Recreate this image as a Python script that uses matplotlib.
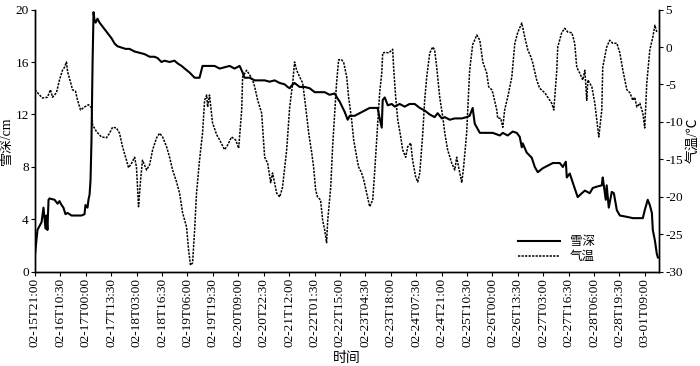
import numpy as np
import matplotlib
matplotlib.use("Agg")
import matplotlib.pyplot as plt

plt.rcParams['font.family'] = ['Liberation Serif', 'Noto Sans CJK SC', 'DejaVu Sans']
plt.rcParams['axes.unicode_minus'] = False

# hours after 02-15T21:00
snow_hours = [0, 1.3, 3.5, 4.5, 5.6, 6.1, 6.6, 7.2, 7.7, 10.4, 12.0, 13.0, 14.1, 15.1, 16.2, 17.3, 19.4, 21.5,
              24.7, 26.3, 26.8, 27.9, 28.4, 29.0, 29.5, 30.0, 30.6, 31.1, 31.6, 32.2, 33.2, 34.3, 35.9, 38.5,
              40.7, 42.3, 43.8, 46.0, 48.1, 50.2, 52.9, 55.5, 58.2, 60.9, 63.5, 65.1, 67.2, 68.8, 71.5, 74.1,
              75.7, 77.9, 79.5, 82.1, 84.8, 87.4, 89.0, 90.6, 92.7, 95.4, 98.1, 100.7, 103.4, 106.0, 108.7,
              110.3, 111.3, 114.0, 116.7, 119.3, 122.0, 124.6, 127.3, 130.0, 132.6, 134.2, 135.3, 136.3,
              137.9, 140.6, 143.2, 145.9, 148.6, 151.2, 153.9, 156.5, 159.2, 160.8, 161.8, 164.5, 166.1,
              167.2, 169.8, 172.5, 175.1, 177.8, 180.4, 182.0, 183.1, 184.2, 184.7, 185.8, 187.4, 189.5,
              191.1, 193.7, 196.4, 199.0, 201.7, 204.4, 207.0, 209.7, 212.3, 213.9, 216.1, 217.7, 220.3,
              223.0, 226.7, 229.3, 230.9, 232.5, 233.6, 236.3, 243.2, 246.9, 248.5, 251.1, 253.8, 255.9,
              257.5, 258.6, 259.1, 261.2, 263.9, 265.5, 267.1, 269.7, 272.4, 275.1, 278.8, 280.4, 282.0,
              282.5, 284.1, 285.7, 288.3, 290.5, 292.1, 294.7, 296.3, 298.4, 301.1, 301.6, 303.2, 303.7,
              304.8, 306.4, 307.5, 309.1, 310.7, 314.4, 317.6, 321.3, 322.9, 323.9, 325.5, 326.6, 327.7,
              328.2, 329.3, 330.3, 330.9]
snow_depth = [1.3, 3.2, 3.8, 4.9, 3.3, 4.3, 3.2, 5.5, 5.6, 5.5, 5.2, 5.4, 5.1, 4.9, 4.4, 4.5, 4.3, 4.3,
              4.3, 4.4, 5.1, 4.9, 5.5, 5.9, 7.0, 10.0, 16.1, 19.8, 19.2, 19.0, 19.3, 19.0, 18.7, 18.2,
              17.8, 17.4, 17.2, 17.1, 17.0, 17.0, 16.8, 16.7, 16.6, 16.4, 16.4, 16.3, 16.0, 16.1, 16.0, 16.1,
              15.9, 15.7, 15.5, 15.2, 14.8, 14.8, 15.7, 15.7, 15.7, 15.7, 15.5, 15.6, 15.7, 15.5, 15.7,
              15.2, 14.8, 14.8, 14.6, 14.6, 14.6, 14.5, 14.6, 14.4, 14.3, 14.1, 14.0, 14.2,
              14.4, 14.1, 14.1, 14.0, 13.7, 13.7, 13.7, 13.5, 13.6, 13.2, 13.0, 12.2, 11.6,
              11.9, 11.9, 12.1, 12.3, 12.5, 12.5, 12.5, 11.7, 11.0, 13.1, 13.3, 12.7, 12.8,
              12.6, 12.8, 12.6, 12.8, 12.8, 12.5, 12.3, 12.0, 11.8, 12.1, 11.7, 11.8, 11.6,
              11.7, 11.7, 11.8, 11.9, 12.5, 11.3, 10.6, 10.6, 10.4, 10.6, 10.4, 10.7, 10.6,
              10.3, 9.5, 9.8, 9.1, 8.7, 8.0, 7.6, 7.9, 8.1, 8.3, 8.3, 8.0, 8.4,
              7.2, 7.5, 6.8, 5.7, 6.0, 6.2, 6.0, 6.4, 6.5, 6.6, 7.2, 5.5, 6.6,
              4.9, 6.1, 6.0, 4.7, 4.3, 4.2, 4.1, 4.1, 4.1, 4.7, 5.5, 5.1, 4.5,
              3.2, 2.4, 1.4, 1.1]

temp_hours = [0, 2.4, 4.0, 6.6, 8.2, 9.3, 11.4, 13.0, 14.6, 15.7, 16.7, 17.3, 18.9, 19.9, 21.5, 22.6, 24.2,
              26.3, 28.4, 30.0, 30.6, 32.7, 35.3, 38.0, 39.6, 41.2, 43.3, 44.9, 46.5, 48.6, 49.7, 51.3, 52.9,
              53.9, 55.0, 56.1, 57.1, 59.3, 60.9, 62.5, 64.6, 66.2, 67.8, 69.9, 71.5, 73.1, 75.2, 76.8, 78.4,
              80.5, 81.6, 82.6, 83.7, 84.8, 85.8, 87.4, 89.0, 90.1, 91.2, 91.7, 92.7, 94.3, 96.5, 98.1, 100.7,
              102.3, 104.4, 106.6, 108.2, 109.8, 110.3, 112.4, 114.0, 115.6, 116.7, 118.3, 120.4, 122.0,
              123.6, 125.2, 126.2, 128.4, 130.0, 131.5, 133.7, 135.3, 136.9, 137.9, 139.0, 140.6, 142.2,
              143.8, 145.4, 147.0, 148.0, 149.1, 150.1, 151.7, 152.8, 153.9, 154.9, 155.5, 157.1, 158.1,
              159.2, 160.2, 161.3, 162.9, 164.0, 165.6, 166.6, 168.2, 169.3, 170.9, 171.9, 173.5, 174.6,
              176.2, 177.8, 179.4, 180.4, 181.5, 183.1, 184.2, 184.7, 186.3, 187.9, 190.0, 190.5, 191.6,
              192.7, 194.3, 195.3, 196.9, 198.0, 199.6, 200.6, 202.2, 203.3, 204.4, 206.0, 207.0, 208.1,
              209.7, 211.3, 212.3, 213.4, 215.0, 216.6, 217.7, 219.2, 221.4, 223.0, 224.0, 225.1, 226.7,
              227.7, 229.3, 230.9, 232.5, 234.7, 236.3, 237.9, 240.0, 241.0, 242.6, 243.2, 245.3, 245.8,
              247.4, 248.5, 249.5, 251.1, 253.3, 254.9, 256.4, 258.6, 260.2, 261.8, 263.4, 264.4, 266.5,
              268.1, 270.8, 272.4, 274.5, 275.6, 277.2, 277.7, 279.8, 281.4, 283.0, 285.2, 286.7, 287.8,
              289.4, 291.0, 292.1, 293.1, 293.7, 295.8, 297.4, 298.4, 299.5, 301.1, 301.6, 303.7, 305.3,
              306.9, 309.1, 310.7, 312.3, 314.4, 316.0, 317.6, 318.6, 319.7, 321.3, 322.9, 323.9, 325.0,
              326.6, 328.2, 329.3, 330.3]
temp_values = [-5.7, -6.4, -6.8, -6.7, -5.7, -6.7, -6.1, -4.4, -3.1, -2.7, -2.0, -3.3, -4.7, -5.7, -5.9, -7.1, -8.4,
               -8.0, -7.7, -8.1, -10.4, -11.3, -12.0, -12.1, -11.5, -10.7, -10.8, -11.5, -13.3, -15.1, -16.1, -15.5, -14.7,
               -16.0, -21.3, -17.7, -15.1, -16.4, -15.7, -13.7, -12.1, -11.5, -12.0, -13.3, -14.7, -16.4, -18.0, -19.5, -22.1,
               -24.0, -27.1, -29.1, -28.8, -24.4, -19.5, -15.1, -11.5, -7.1, -6.4, -8.0, -6.4, -10.1, -11.7, -12.4, -13.7,
               -13.1, -12.0, -12.4, -13.5, -8.4, -4.0, -3.1, -3.7, -4.4, -5.3, -7.1, -8.8, -14.7,
               -15.5, -18.1, -16.8, -19.5, -20.0, -18.7, -13.7, -8.0, -4.8, -2.0, -3.1, -4.0, -4.8,
               -8.0, -11.5, -14.1, -16.0, -19.1, -20.0, -20.4, -23.1, -24.4, -26.1, -23.1, -18.7, -13.3,
               -8.8, -4.8, -1.7, -1.7, -2.1, -4.0, -6.7, -9.7, -12.4, -14.7, -16.0, -16.8, -17.7,
               -19.5, -21.3, -20.4, -16.8, -12.4, -6.1, -3.5, -0.8, -0.7, -0.8, -0.3, -2.7, -6.7,
               -9.7, -12.0, -13.7, -14.7, -13.3, -12.8, -15.1, -17.3, -18.0, -16.8, -11.5, -7.1, -4.0,
               -0.8, 0.0, -0.4, -2.7, -6.7, -9.3, -11.5, -13.7, -15.5, -16.4, -14.7, -16.1, -18.1,
               -16.0, -11.5, -3.1, 0.3, 1.6, 0.9, -2.0, -3.5, -5.3, -5.7, -6.1, -8.4, -9.5,
               -9.5, -10.7, -8.4, -6.7, -4.0, 0.5, 1.9, 3.2, 1.3, -0.4, -1.3, -2.1, -4.4,
               -5.5, -6.1, -6.7, -7.5, -8.4, -3.1, 0.0, 1.9, 2.5, 2.0, 1.9, 0.5, -2.7,
               -3.5, -4.4, -3.1, -7.1, -4.4, -5.3, -7.5, -9.7, -12.0, -8.4, -2.7, 0.0, 0.9,
               0.5, 0.5, -0.8, -3.1, -5.7, -6.1, -7.1, -6.7, -8.0, -7.5, -8.8, -10.8, -4.8,
               -0.4, 1.3, 2.9, 2.0]

tick_labels = ['02-15T21:00', '02-16T10:30', '02-17T00:00', '02-17T13:30', '02-18T03:00', '02-18T16:30',
               '02-19T06:00', '02-19T19:30', '02-20T09:00', '02-20T22:30', '02-21T12:00', '02-22T01:30',
               '02-22T15:00', '02-23T04:30', '02-23T18:00', '02-24T07:30', '02-24T21:00', '02-25T10:30',
               '02-26T00:00', '02-26T13:30', '02-27T03:00', '02-27T16:30', '02-28T06:00', '02-28T19:30',
               '03-01T09:00']

fig = plt.figure(figsize=(7.0, 3.66), dpi=100)
ax = fig.add_axes([0.050, 0.257, 0.892, 0.717])
ax2 = ax.twinx()

l1, = ax.plot(snow_hours, snow_depth, color='black', lw=1.5, label='雪深')
l2, = ax2.plot(temp_hours, temp_values, color='black', lw=1.1, linestyle=(0, (1.5, 0.8)), label='气温')

ax.set_xlim(0, 331.7)
ax.set_ylim(0, 20)
ax2.set_ylim(-30, 5)
ax.set_yticks([0, 4, 8, 12, 16, 20])
ax2.set_yticks([-30, -25, -20, -15, -10, -5, 0, 5])
ax.set_xticks(np.arange(len(tick_labels)) * 13.5)
ax.set_xticklabels(tick_labels, rotation=90, fontsize=9.5)

for a in (ax, ax2):
    a.spines['top'].set_visible(False)
    a.tick_params(direction='out', length=3, width=0.8, labelsize=9.5, pad=1.5)
    for s in a.spines.values():
        s.set_linewidth(1.0)

ax.set_ylabel('雪深/cm', fontsize=10)
ax.yaxis.set_label_coords(-0.036, 0.5)
ax2.set_ylabel('气温/℃', fontsize=10, labelpad=2)
ax.set_xlabel('时间', fontsize=10, labelpad=3)

ax.legend(handles=[l1, l2], loc='lower right', bbox_to_anchor=(0.915, -0.01), frameon=False,
          fontsize=9, handlelength=3.4, handletextpad=0.8, labelspacing=0.25)

fig.savefig('out.png', dpi=100)
